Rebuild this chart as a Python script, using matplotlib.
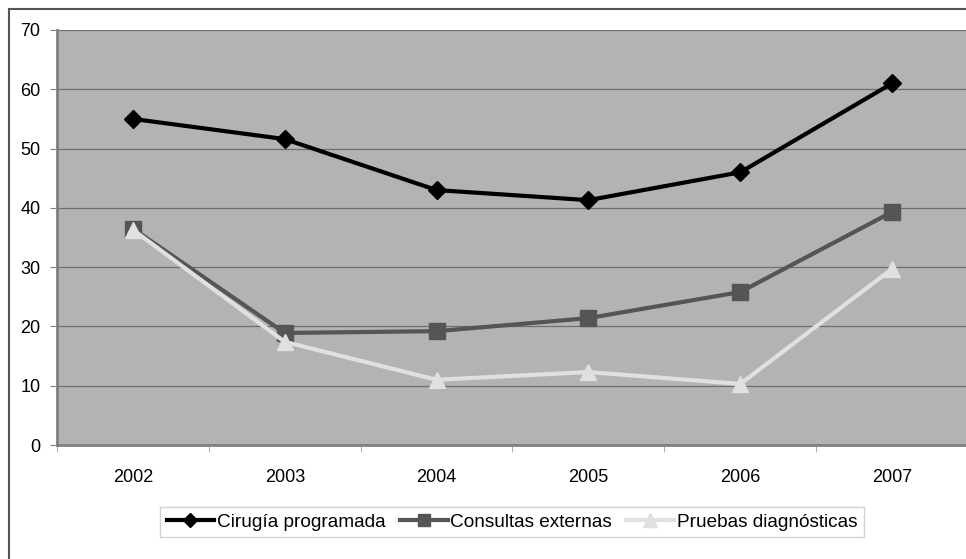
import matplotlib.pyplot as plt
from matplotlib.patches import Rectangle

plt.rcParams['font.family'] = ['Liberation Sans', 'DejaVu Sans']

years = ['2002', '2003', '2004', '2005', '2006', '2007']
cirugia = [55.0, 51.6, 43.0, 41.3, 46.0, 61.0]
consultas = [36.5, 18.9, 19.2, 21.4, 25.8, 39.3]
pruebas = [36.3, 17.4, 11.0, 12.3, 10.3, 29.7]

fig = plt.figure(figsize=(9.66, 5.59), dpi=100)
# outer chart border
fig.patches.append(Rectangle((9 / 966, -0.1), 1.1, 1 - 9 / 559 + 0.1,
                             transform=fig.transFigure, fill=False,
                             edgecolor='#555555', lw=1.5, clip_on=False))

ax = fig.add_axes([57 / 966, 1 - 445 / 559, 911 / 966, 415 / 559])
ax.set_facecolor('#b3b3b3')
x = range(len(years))

ax.plot(x, cirugia, color='black', lw=3, marker='D', ms=9,
        label='Cirugía programada')
ax.plot(x, consultas, color='#555555', lw=3, marker='s', ms=11,
        label='Consultas externas')
ax.plot(x, pruebas, color='#e0e0e0', lw=3, marker='^', ms=12,
        label='Pruebas diagnósticas')

ax.set_xlim(-0.5, 5.5)
ax.set_ylim(0, 70)
ax.set_yticks(range(0, 71, 10))
ax.set_xticks(list(x))
ax.set_xticklabels(years)
ax.set_xticks([i + 0.5 for i in range(-1, 6)], minor=True)
ax.tick_params(axis='x', which='major', length=0, pad=17, labelsize=13)
ax.tick_params(axis='x', which='minor', length=5, color='#a0a0a0')
ax.tick_params(axis='y', length=5, color='#808080', pad=7, labelsize=13)
ax.grid(axis='y', color='#6e6e6e', lw=0.9)
ax.set_axisbelow(True)
for s in ['top', 'right']:
    ax.spines[s].set_visible(False)
for s in ['left', 'bottom']:
    ax.spines[s].set_color('#808080')
    ax.spines[s].set_linewidth(2)

leg = fig.legend(loc='center', bbox_to_anchor=(512 / 966, 1 - 522 / 559),
                 ncol=3, frameon=True, fancybox=False, fontsize=13.7,
                 handlelength=2.5, handletextpad=0.15, columnspacing=0.75,
                 borderpad=0.35, borderaxespad=0, edgecolor='#c8c8c8',
                 markerscale=0.8)
leg.get_frame().set_linewidth(1)

fig.savefig('out.png', dpi=100)
